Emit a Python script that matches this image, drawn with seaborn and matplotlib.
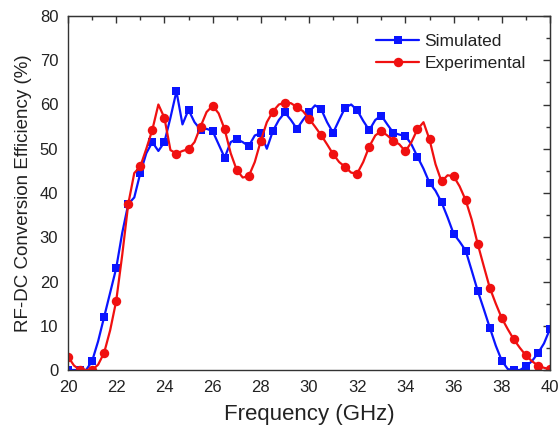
import numpy as np
import pandas as pd
import matplotlib
matplotlib.use("Agg")
import matplotlib.pyplot as plt
import seaborn as sns
from matplotlib.ticker import MultipleLocator

# Frequency grid (GHz), 0.25 GHz steps; markers every 0.5 GHz
freq = [20.00, 20.25, 20.50, 20.75, 21.00, 21.25, 21.50, 21.75, 22.00, 22.25,
        22.50, 22.75, 23.00, 23.25, 23.50, 23.75, 24.00, 24.25, 24.50, 24.75,
        25.00, 25.25, 25.50, 25.75, 26.00, 26.25, 26.50, 26.75, 27.00, 27.25,
        27.50, 27.75, 28.00, 28.25, 28.50, 28.75, 29.00, 29.25, 29.50, 29.75,
        30.00, 30.25, 30.50, 30.75, 31.00, 31.25, 31.50, 31.75, 32.00, 32.25,
        32.50, 32.75, 33.00, 33.25, 33.50, 33.75, 34.00, 34.25, 34.50, 34.75,
        35.00, 35.25, 35.50, 35.75, 36.00, 36.25, 36.50, 36.75, 37.00, 37.25,
        37.50, 37.75, 38.00, 38.25, 38.50, 38.75, 39.00, 39.25, 39.50, 39.75,
        40.00]

simulated = [0, 0, 0, 0, 2, 6.5, 12, 17.5, 23, 31,
             37.5, 39, 44.5, 49, 51.5, 49.5, 51.5, 57, 63, 55.5,
             58.8, 56, 54.3, 54.5, 54, 51, 48, 51.5, 52.2, 51.5,
             50.6, 53, 53.5, 50, 54, 56.5, 58.2, 56.5, 54.5, 56.5,
             58.3, 59.8, 59, 56, 53.6, 56.5, 59.3, 60, 58.7, 56.3,
             54.2, 56.5, 57.5, 55.5, 53.6, 53.2, 52.9, 51, 48.2, 45.5,
             42.3, 40.5, 37.9, 34.5, 30.8, 29, 27, 22.5, 17.9, 13.8,
             9.6, 5.5, 2.1, 0.2, 0, 0, 0.8, 2, 3.8, 6,
             9.3]

experimental = [3, 1, 0, 0, 0, 1.2, 3.9, 9, 15.6, 26,
                37.5, 44.5, 46, 50, 54.3, 60, 57, 49.7, 48.9, 49.5,
                49.9, 51.5, 55, 58.3, 59.7, 58, 54.4, 49, 45.2, 43.5,
                43.8, 47, 51.8, 56, 58.4, 60, 60.4, 60.3, 59.4, 58.5,
                56.8, 55, 53.1, 51, 48.8, 47, 45.9, 44.6, 44.4, 47,
                50.5, 53, 54, 53, 51.8, 51, 49.4, 51.5, 54.4, 56,
                52.1, 46.5, 42.6, 44, 43.8, 41.5, 38.4, 34, 28.5, 23.5,
                18.6, 15, 11.7, 9.2, 6.9, 5, 3.3, 2, 1, 0.5,
                0.2]

series_names = ["Simulated", "Experimental"]
x_ticks = [20, 22, 24, 26, 28, 30, 32, 34, 36, 38, 40]
y_ticks = [0, 10, 20, 30, 40, 50, 60, 70, 80]

sns.set_style("white")
plt.rcParams['font.family'] = ['Liberation Sans', 'DejaVu Sans']

fig = plt.figure(figsize=(5.6, 4.46), dpi=100)
ax = fig.add_axes([68/560, 1 - 370/446, (550-68)/560, (370-16)/446])

df_sim = pd.DataFrame({"f": freq, "v": simulated})
df_exp = pd.DataFrame({"f": freq, "v": experimental})

sns.lineplot(data=df_sim, x="f", y="v", ax=ax, color="#0a14ff", lw=1.6,
             marker="s", markersize=6, markeredgewidth=0, markevery=2,
             label=series_names[0])
sns.lineplot(data=df_exp, x="f", y="v", ax=ax, color="#f01010", lw=1.6,
             marker="o", markersize=6.8, markeredgewidth=0, markevery=2,
             label=series_names[1])

ax.set_xlim(20, 40)
ax.set_ylim(0, 80)
ax.set_xticks(x_ticks)
ax.set_yticks(y_ticks)
ax.xaxis.set_minor_locator(MultipleLocator(1))
ax.yaxis.set_minor_locator(MultipleLocator(5))
ax.tick_params(which='both', direction='out', colors='#333333', labelcolor='#222222',
               top=False, right=False, width=1)
ax.tick_params(which='major', length=5, labelsize=12, pad=2)
ax.tick_params(which='minor', length=3)

for s in ax.spines.values():
    s.set_color('#333333')
    s.set_linewidth(1.0)

# mirrored ticks (pointing inward) on top and right
top = ax.secondary_xaxis('top')
top.set_xticks(x_ticks)
top.xaxis.set_minor_locator(MultipleLocator(1))
top.tick_params(which='both', direction='in', labeltop=False, colors='#333333', width=1)
top.tick_params(which='major', length=5)
top.tick_params(which='minor', length=3)
right = ax.secondary_yaxis('right')
right.set_yticks(y_ticks)
right.yaxis.set_minor_locator(MultipleLocator(5))
right.tick_params(which='both', direction='in', labelright=False, colors='#333333', width=1)
right.tick_params(which='major', length=5)
right.tick_params(which='minor', length=3)

ax.set_xlabel("Frequency (GHz)", fontsize=16, color='#222222')
ax.set_ylabel("RF-DC Conversion Efficiency (%)", fontsize=13.5, color='#222222')
ax.xaxis.set_label_coords(0.5, -0.096)
ax.yaxis.set_label_coords(-0.075, 0.5)

leg = ax.legend(loc='upper right', frameon=False, fontsize=12.5, handlelength=2.5,
                handletextpad=0.3, borderaxespad=0.3, labelspacing=0.4,
                bbox_to_anchor=(0.975, 0.985))
for t in leg.get_texts():
    t.set_color('#222222')

fig.savefig("out.png", dpi=100)
